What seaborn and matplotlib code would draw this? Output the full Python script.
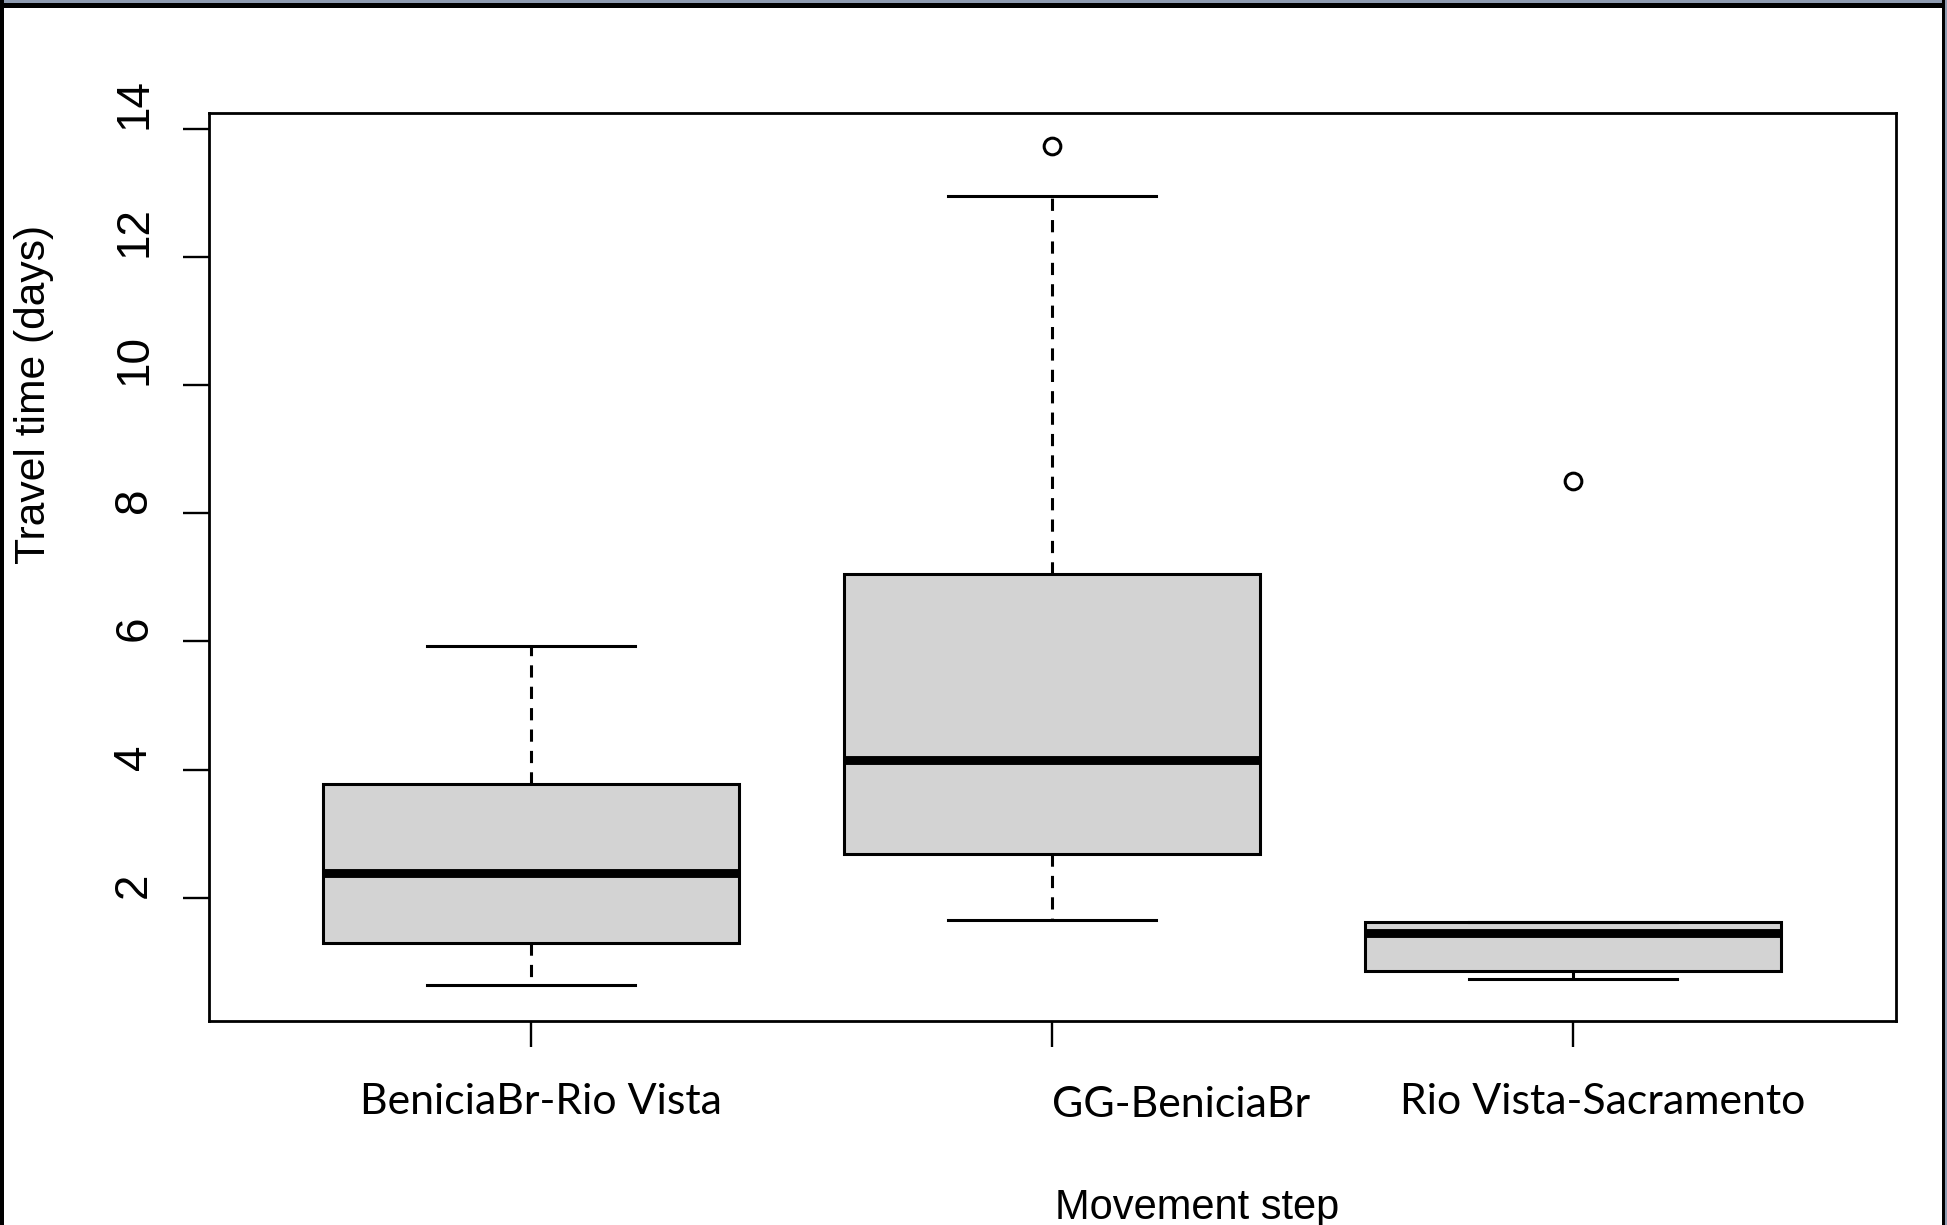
import numpy as np
import pandas as pd
import matplotlib
matplotlib.use("Agg")
import matplotlib.pyplot as plt
import matplotlib.transforms as mtransforms
from matplotlib.patches import Rectangle
import seaborn as sns

# ---------------- data ----------------
categories = ["BeniciaBr-Rio Vista", "GG-BeniciaBr", "Rio Vista-Sacramento"]
benicia_rio_vista = [0.64, 1.29, 2.38, 3.77, 5.93]
gg_benicia = [1.65, 2.20, 2.68, 3.40, 4.15, 5.60, 7.06, 12.95, 13.74]
rio_vista_sacramento = [0.73, 0.86, 1.45, 1.62, 8.50]
y_ticks = [2, 4, 6, 8, 10, 12, 14]
y_label = "Travel time (days)"
x_label = "Movement step"

df = pd.DataFrame({
    "step": [categories[0]] * len(benicia_rio_vista)
            + [categories[1]] * len(gg_benicia)
            + [categories[2]] * len(rio_vista_sacramento),
    "days": benicia_rio_vista + gg_benicia + rio_vista_sacramento,
})

W, H, DPI = 1947, 1225, 100
fig = plt.figure(figsize=(W / DPI, H / DPI), dpi=DPI)
fig.patch.set_facecolor("white")

ax_l, ax_r, ax_t, ax_b = 208.6, 1896, 113, 1021
ax = fig.add_axes([ax_l / W, 1 - ax_b / H, (ax_r - ax_l) / W, (ax_b - ax_t) / H])

lw = 2.2
sns.boxplot(
    data=df, x="step", y="days", order=categories, ax=ax,
    width=0.8, color="#D3D3D3", saturation=1, linecolor="black",
    linewidth=lw, whis=1.5,
    medianprops={"linewidth": 6.4, "color": "black", "solid_capstyle": "butt"},
    whiskerprops={"linestyle": (0, (4.0, 3.0)), "linewidth": lw, "color": "black"},
    capprops={"linewidth": lw, "color": "black"},
    flierprops={"marker": "o", "markersize": 12, "markerfacecolor": "none",
                "markeredgecolor": "black", "markeredgewidth": 2.2},
)

ax.set_xlim(-0.619, 2.62)
ax.set_ylim(0.075, 14.25)
ax.set_yticks(y_ticks)
ax.set_xticks(range(len(categories)))
ax.set_xlabel("")
ax.set_ylabel("")

for s in ax.spines.values():
    s.set_visible(True)
    s.set_linewidth(2.0)
    s.set_color("black")

ax.tick_params(axis="both", direction="out", length=18.7, width=1.7, color="black")
ax.tick_params(axis="x", labelbottom=False)
ax.tick_params(axis="y", pad=19, labelsize=33)
for lab in ax.get_yticklabels():
    lab.set_fontfamily("Liberation Sans")
    lab.set_rotation(90)
    lab.set_va("bottom")
    lab.set_ha("right")

# y label
fig.text(34 / W, 1 - 394 / H, y_label, rotation=90, ha="center", va="center",
         fontsize=30.7, family="Liberation Sans")

# x label (offset to the right as in the reference)
fig.text(1197 / W, (H - 1219.5) / H, x_label, ha="center", va="baseline",
         fontsize=30, family="Liberation Sans")

# category labels
blend = mtransforms.blended_transform_factory(ax.transData, fig.transFigure)
specs = [(10, 1114, "center"), (0, 1117, "left"), (30, 1114, "center")]
texts = []
for i, (cat, (dx, base, ha)) in enumerate(zip(categories, specs)):
    tr = blend + mtransforms.ScaledTranslation(dx / DPI, 0, fig.dpi_scale_trans)
    t = ax.text(i, (H - base) / H, cat, transform=tr, ha=ha, va="baseline",
                fontsize=30, family="Lato", clip_on=False)
    texts.append(t)
fig.canvas.draw()
r = fig.canvas.get_renderer()
w0 = texts[0].get_window_extent(r).width
scale = 363.0 / w0
for t in texts:
    t.set_fontsize(30 * scale)

# screenshot border
fig.add_artist(Rectangle((0, 1 - 3 / H), 1, 3 / H, transform=fig.transFigure,
                         facecolor="#8e9bb0", edgecolor="none", zorder=10))
fig.add_artist(Rectangle((0, 1 - 8 / H), 1, 5 / H, transform=fig.transFigure,
                         facecolor="black", edgecolor="none", zorder=10))
fig.add_artist(Rectangle((0, 0), 4 / W, 1, transform=fig.transFigure,
                         facecolor="black", edgecolor="none", zorder=10))
fig.add_artist(Rectangle((1942 / W, 0), 3 / W, 1, transform=fig.transFigure,
                         facecolor="black", edgecolor="none", zorder=10))
fig.add_artist(Rectangle((1945 / W, 0), 2 / W, 1, transform=fig.transFigure,
                         facecolor="#8e9bb0", edgecolor="none", zorder=10))

fig.savefig("out.png", dpi=DPI)
